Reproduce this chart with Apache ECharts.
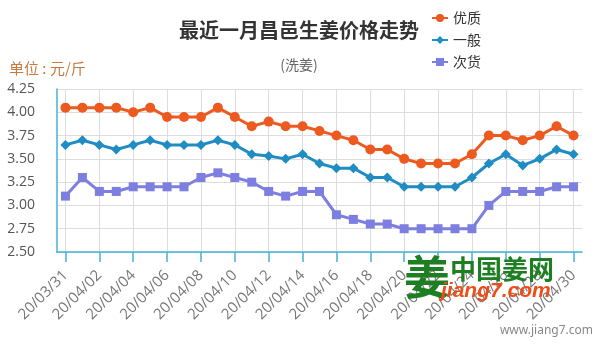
<!DOCTYPE html>
<html>
<head>
<meta charset="utf-8">
<script src="https://cdn.jsdelivr.net/npm/echarts@6/dist/echarts.min.js"></script>
<style>
  html, body { margin: 0; padding: 0; background: #fff; }
  #chart { width: 600px; height: 345px; }
</style>
</head>
<body>
<div id="chart"></div>
<script>
// Daily dates, 2020-03-31 to 2020-04-30
const dates = [
  '20/03/31', '20/04/01', '20/04/02', '20/04/03', '20/04/04', '20/04/05', '20/04/06', '20/04/07',
  '20/04/08', '20/04/09', '20/04/10', '20/04/11', '20/04/12', '20/04/13', '20/04/14', '20/04/15',
  '20/04/16', '20/04/17', '20/04/18', '20/04/19', '20/04/20', '20/04/21', '20/04/22', '20/04/23',
  '20/04/24', '20/04/25', '20/04/26', '20/04/27', '20/04/28', '20/04/29', '20/04/30'
];

// Prices in 元/斤
const premium = [
  4.05, 4.05, 4.05, 4.05, 4.00, 4.05, 3.95, 3.95, 3.95, 4.05, 3.95, 3.85, 3.90, 3.85, 3.85, 3.80,
  3.75, 3.70, 3.60, 3.60, 3.50, 3.45, 3.45, 3.45, 3.55, 3.75, 3.75, 3.70, 3.75, 3.85, 3.75
];
const regular = [
  3.65, 3.70, 3.65, 3.60, 3.65, 3.70, 3.65, 3.65, 3.65, 3.70, 3.65, 3.55, 3.53, 3.50, 3.55, 3.45,
  3.40, 3.40, 3.30, 3.30, 3.20, 3.20, 3.20, 3.20, 3.30, 3.45, 3.55, 3.43, 3.50, 3.60, 3.55
];
const inferior = [
  3.10, 3.30, 3.15, 3.15, 3.20, 3.20, 3.20, 3.20, 3.30, 3.35, 3.30, 3.25, 3.15, 3.10, 3.15, 3.15,
  2.90, 2.85, 2.80, 2.80, 2.75, 2.75, 2.75, 2.75, 2.75, 3.00, 3.15, 3.15, 3.15, 3.20, 3.20
];

const seriesNames = ['优质', '一般', '次货'];
const yMin = 2.5, yMax = 4.25, yStep = 0.25;

const axisTeal = '#44b3d6';
const cjk = '"Noto Sans CJK SC", "Noto Sans", sans-serif';

const chart = echarts.init(document.getElementById('chart'), null, { renderer: 'canvas' });

chart.setOption({
  animation: false,
  backgroundColor: '#ffffff',
  title: [
    {
      text: '最近一月昌邑生姜价格走势',
      left: 294, top: 15, textAlign: 'center',
      textStyle: { fontFamily: cjk, fontSize: 20, fontWeight: 'bold', color: '#333' }
    },
    {
      text: '(洗姜)',
      left: 294, top: 53, textAlign: 'center',
      textStyle: { fontFamily: cjk, fontSize: 14, fontWeight: 'normal', color: '#666' }
    },
    {
      text: '单位 : 元/斤',
      left: 4, top: 56,
      textStyle: { fontFamily: cjk, fontSize: 15, fontWeight: 'normal', color: '#c77a3e' }
    }
  ],
  legend: {
    orient: 'vertical',
    left: 426, top: 6,
    itemWidth: 16, itemHeight: 10, itemGap: 8,
    textStyle: { fontFamily: cjk, fontSize: 14, color: '#333' },
    data: seriesNames
  },
  grid: { left: 57, right: 18, top: 89, bottom: 93, containLabel: false },
  xAxis: {
    type: 'category',
    data: dates,
    boundaryGap: true,
    axisLine: { lineStyle: { color: axisTeal, width: 1.5 } },
    axisTick: { show: true, interval: 1, alignWithLabel: true, length: 10, lineStyle: { color: axisTeal, width: 1.5 } },
    axisLabel: {
      interval: 1, rotate: 45, margin: 21,
      fontFamily: '"Open Sans", sans-serif', fontSize: 15, color: '#777'
    },
    splitLine: { show: true, interval: 1, alignWithLabel: true, lineStyle: { color: '#ddd', width: 1 } }
  },
  yAxis: {
    type: 'value',
    min: yMin, max: yMax, interval: yStep,
    axisLine: { show: true, lineStyle: { color: axisTeal, width: 1.5 } },
    axisTick: { show: false },
    axisLabel: {
      margin: 22,
      fontFamily: '"Open Sans", sans-serif', fontSize: 14, color: '#555',
      formatter: v => v.toFixed(2)
    },
    splitLine: { show: true, lineStyle: { color: '#ddd', width: 1 } }
  },
  series: [
    {
      name: seriesNames[0], type: 'line', data: premium,
      symbol: 'circle', symbolSize: 10,
      lineStyle: { width: 3, color: '#ec5a1f' },
      itemStyle: { color: '#ec5a1f' }
    },
    {
      name: seriesNames[1], type: 'line', data: regular,
      symbol: 'diamond', symbolSize: 10,
      lineStyle: { width: 3, color: '#1f8cc3' },
      itemStyle: { color: '#1f8cc3' }
    },
    {
      name: seriesNames[2], type: 'line', data: inferior,
      symbol: 'rect', symbolSize: 9,
      lineStyle: { width: 3, color: '#7d7fe0' },
      itemStyle: { color: '#7d7fe0' }
    }
  ],
  graphic: [
    {
      type: 'text', left: 404, top: 254, z: 100,
      style: { text: '姜', font: 'bold 46px "Noto Sans CJK SC"', fill: '#1d7f22' }
    },
    {
      type: 'text', left: 450, top: 256, z: 100,
      style: { text: '中国姜网', font: 'bold 26px "Noto Sans CJK SC"', fill: '#1d7f22' }
    },
    {
      type: 'text', left: 441, top: 281, z: 100,
      style: { text: 'jiang7.com', font: 'italic bold 21px "Liberation Sans"', fill: '#ee4d17' }
    },
    {
      type: 'text', right: 7, top: 325, z: 100,
      style: { text: 'www.jiang7.com', font: '12px "Noto Sans"', fill: '#888' }
    }
  ]
});
</script>
</body>
</html>
